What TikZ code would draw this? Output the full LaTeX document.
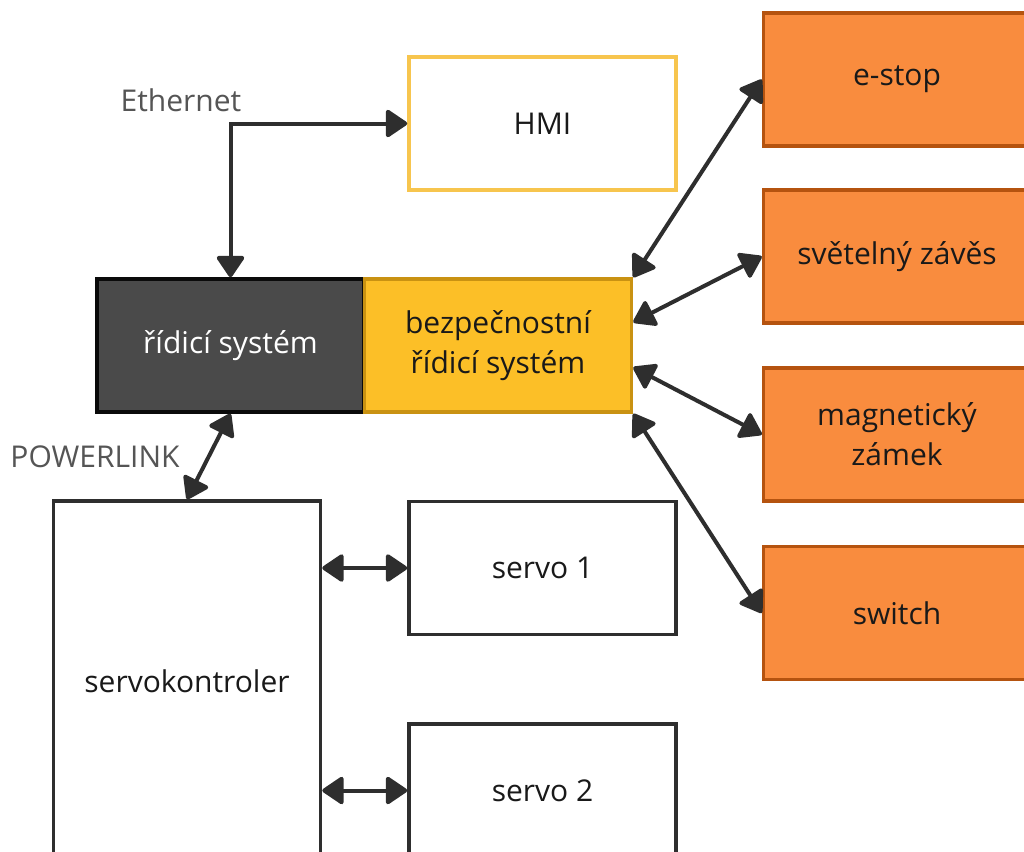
\documentclass[tikz,border=0pt]{standalone}
\usepackage{fontspec}
\setmainfont{Open Sans}
\usetikzlibrary{arrows.meta,calc}

\definecolor{linecol}{HTML}{2E2E2E}
\definecolor{hmiborder}{HTML}{F7C54E}
\definecolor{orangefill}{HTML}{F98C3E}
\definecolor{orangeborder}{HTML}{B5530F}
\definecolor{darkfill}{HTML}{4A4A4A}
\definecolor{darkborder}{HTML}{0A0A0A}
\definecolor{safefill}{HTML}{FCBF27}
\definecolor{safeborder}{HTML}{C99212}
\definecolor{labelcol}{HTML}{555555}

\tikzset{
  box/.style={rectangle, inner sep=0pt, minimum width=267pt, minimum height=133pt,
    line width=3.5pt, align=center, font=\fontsize{30}{40}\selectfont, text=black!90},
  plainbox/.style={box, draw=linecol, fill=white},
  hmibox/.style={box, draw=hmiborder, fill=white},
  devbox/.style={box, draw=orangeborder, fill=orangefill},
  ctrlbox/.style={box, draw=darkborder, fill=darkfill, text=white},
  safebox/.style={box, draw=safeborder, fill=safefill},
  netlabel/.style={font=\fontsize{30}{34}\selectfont, text=labelcol},
  link/.style={draw=linecol, line width=4pt,
    {Triangle[length=23pt,width=30pt,round]}-{Triangle[length=23pt,width=30pt,round]}}
}

\begin{document}
\begin{tikzpicture}[x=1pt, y=-1pt]
  \useasboundingbox (0,0) rectangle (1024,851);
  \clip (0,0) rectangle (1024,851);
  \fill[white] (0,0) rectangle (1024,851);

  % control system and safety controller
  \node[ctrlbox] (rs) at (230.5,345.5) {řídicí systém};
  \node[safebox] (bz) at (498,345.5) {bezpečnostní\\řídicí systém};

  % operator panel
  \node[hmibox] (hmi) at (542.5,123.5) {HMI};

  % safety devices
  \node[devbox] (es) at (897,79.5) {e-stop};
  \node[devbox] (sz) at (897,256.5) {světelný závěs};
  \node[devbox] (mz) at (897,434.5) {magnetický\\zámek};
  \node[devbox] (sw) at (897,613) {switch};

  % drives
  \node[plainbox, minimum height=360pt] (sk) at (187,681) {servokontroler};
  \node[plainbox] (s1) at (542.5,568) {servo 1};
  \node[plainbox] (s2) at (542.5,790.5) {servo 2};

  % bus labels
  \node[netlabel] (eth) at (181,100) {Ethernet};
  \node[netlabel] (pl) at (95,457) {POWERLINK};

  % connections
  \draw[link] (rs.north) |- (hmi.west);
  \draw[link] (rs.south) -- (sk.north);
  \draw[link] (sk.east |- s1.west) -- (s1.west);
  \draw[link] (sk.east |- s2.west) -- (s2.west);

  \coordinate (bz1) at ($(bz.north east)!0.33!(bz.south east)$);
  \coordinate (bz2) at ($(bz.north east)!0.66!(bz.south east)$);
  \draw[link] (bz.north east) -- (es.west);
  \draw[link] (bz1) -- (sz.west);
  \draw[link] (bz2) -- (mz.west);
  \draw[link] (bz.south east) -- (sw.west);
\end{tikzpicture}
\end{document}
